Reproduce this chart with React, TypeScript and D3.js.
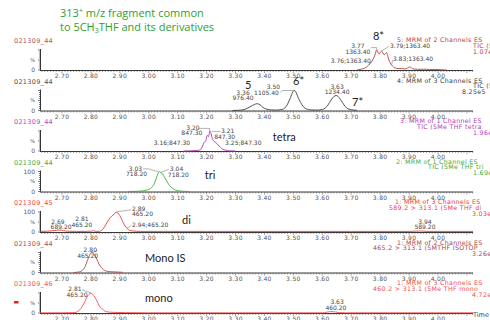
import React from "react";
import * as d3 from "d3";

const W = 490;
const H = 320;

// ---------- data ----------
const TIME_DOMAIN: [number, number] = [2.624, 4.121];
const MAJOR_TICKS = [2.7, 2.8, 2.9, 3.0, 3.1, 3.2, 3.3, 3.4, 3.5, 3.6, 3.7, 3.8, 3.9, 4.0];
const TICK_LABELS = ["2.70", "2.80", "2.90", "3.00", "3.10", "3.20", "3.30", "3.40", "3.50", "3.60", "3.70", "3.80", "3.90", "4.00"];
const PANEL_ORDER = [0, 1, 2, 3, 4, 5, 6];

const trace8: [number, number][] = [
  [3.72, 0], [3.735, 4], [3.745, 8], [3.76, 24], [3.776, 55], [3.782, 75], [3.788, 100], [3.796, 80],
  [3.805, 95], [3.814, 76], [3.822, 87], [3.83, 50], [3.84, 24], [3.851, 11], [3.862, 7], [3.874, 8],
  [3.885, 5], [3.895, 10], [3.903, 16], [3.912, 6], [3.92, 5], [3.94, 3], [3.955, 4], [3.97, 2],
  [3.99, 3], [4.01, 1], [4.03, 0],
];
const trace567: [number, number][] = [
  [3.29, 0], [3.31, 1], [3.33, 5], [3.35, 18], [3.365, 30], [3.375, 34], [3.385, 28], [3.395, 15],
  [3.405, 8], [3.42, 3], [3.44, 2], [3.46, 5], [3.47, 12], [3.48, 32], [3.49, 65], [3.498, 92],
  [3.503, 100], [3.508, 94], [3.515, 70], [3.525, 40], [3.535, 18], [3.545, 8], [3.56, 3], [3.58, 2],
  [3.6, 5], [3.61, 12], [3.62, 28], [3.63, 52], [3.64, 70], [3.648, 75], [3.655, 70], [3.665, 50],
  [3.675, 28], [3.685, 12], [3.7, 4], [3.72, 1],
];
const traceTetra: [number, number][] = [
  [3.12, 0], [3.14, 1], [3.16, 2], [3.17, 3], [3.18, 8], [3.186, 25], [3.192, 45], [3.197, 50],
  [3.202, 78], [3.207, 72], [3.211, 100], [3.215, 88], [3.22, 62], [3.226, 48], [3.232, 42], [3.24, 30],
  [3.248, 18], [3.256, 9], [3.265, 4], [3.28, 1], [3.3, 0],
];
const traceTri: [number, number][] = [
  [2.93, 0], [2.96, 1], [2.98, 3], [2.995, 8], [3.01, 20], [3.02, 42], [3.028, 75], [3.034, 95],
  [3.038, 100], [3.042, 93], [3.048, 88], [3.055, 70], [3.063, 50], [3.073, 28], [3.083, 15],
  [3.093, 7], [3.105, 3], [3.12, 1], [3.14, 0],
];
const traceDi: [number, number][] = [
  [2.625, 3], [2.65, 4], [2.665, 6], [2.68, 8], [2.693, 10], [2.705, 7], [2.72, 4], [2.75, 3],
  [2.78, 3], [2.8, 4], [2.81, 6], [2.818, 3], [2.83, 4], [2.842, 15], [2.852, 38], [2.862, 62],
  [2.872, 80], [2.88, 88], [2.887, 100], [2.893, 95], [2.9, 82], [2.908, 58], [2.916, 35], [2.925, 18],
  [2.935, 8], [2.945, 5], [2.97, 3], [3.05, 3], [3.2, 3], [3.35, 3], [3.5, 3], [3.7, 3], [3.9, 3],
  [3.94, 5], [3.96, 3], [4.121, 3],
];
const traceMonoIS: [number, number][] = [
  [2.74, 0], [2.76, 3], [2.77, 10], [2.78, 30], [2.788, 60], [2.795, 85], [2.8, 98], [2.806, 100],
  [2.812, 90], [2.82, 68], [2.828, 42], [2.838, 22], [2.848, 10], [2.86, 5], [2.88, 3], [2.91, 1],
];
const traceMono: [number, number][] = [
  [2.625, 1], [2.7, 1], [2.745, 2], [2.755, 8], [2.765, 22], [2.775, 45], [2.783, 70], [2.79, 88],
  [2.797, 97], [2.8, 100], [2.806, 93], [2.813, 80], [2.821, 60], [2.828, 38], [2.835, 24], [2.84, 20],
  [2.848, 10], [2.86, 5], [2.88, 3], [2.92, 2], [3.0, 1], [3.3, 1], [3.6, 1], [3.615, 4], [3.63, 7],
  [3.645, 5], [3.66, 2], [3.68, 1], [4.121, 1],
];

// annotations: [time, percent, text, anchor]
type Ann = [number, number, string, string];
const ann1: Ann[] = [
  [3.723, 120, "3.77", "middle"], [3.723, 90, "1363.40", "middle"], [3.834, 120, "3.79;1363.40", "start"],
  [3.768, 45, "3.76;1363.40", "end"], [3.844, 55, "3.83;1363.40", "start"],
];
const ann2: Ann[] = [
  [3.326, 87.5, "3.36", "middle"], [3.326, 62.5, "976.40", "middle"], [3.454, 119, "3.50", "end"],
  [3.45, 90, "1105.40", "end"], [3.651, 119, "3.63", "middle"], [3.651, 91, "1234.40", "middle"],
];
const ann3: Ann[] = [
  [3.153, 115, "3.20", "middle"], [3.149, 90, "847.30", "middle"], [3.25, 100, "3.21", "start"],
  [3.226, 72.5, "847.30", "start"], [3.143, 40, "3.16;847.30", "end"], [3.264, 42.5, "3.25;847.30", "start"],
];
const ann4: Ann[] = [
  [2.977, 115, "3.03", "end"], [2.994, 87.5, "718.20", "end"], [3.073, 112.5, "3.04", "start"],
  [3.066, 82.5, "718.20", "start"],
];
const ann5: Ann[] = [
  [2.686, 51.5, "2.69", "middle"], [2.697, 26.5, "689.20", "middle"], [2.769, 63.5, "2.81", "middle"],
  [2.769, 35, "465.20", "middle"], [2.942, 113.5, "2.89", "start"], [2.942, 88.5, "465.20", "start"],
  [2.942, 35, "2.94;465.20", "start"], [3.955, 51.5, "3.94", "middle"], [3.955, 26.5, "589.20", "middle"],
];
const ann6: Ann[] = [[2.821, 112.5, "2.80", "end"], [2.825, 85, "465.20", "end"]];
const ann7: Ann[] = [
  [2.745, 118.5, "2.81", "middle"], [2.752, 90, "465.20", "middle"], [3.651, 56.5, "3.63", "middle"],
  [3.647, 26.5, "460.20", "middle"],
];

// leader lines from labels to peaks: list of [time, percent] points
type Lead = [number, number][];
const lead1: Lead[] = [
  [[3.768, 112], [3.788, 112], [3.788, 100]],
  [[3.806, 96], [3.83, 118]],
  [[3.769, 40], [3.76, 26]],
  [[3.843, 50], [3.84, 26]],
];
const lead2: Lead[] = [[[3.455, 90], [3.462, 100], [3.503, 100]]];
const lead3: Lead[] = [
  [[3.172, 113], [3.211, 113], [3.211, 100]],
  [[3.218, 98], [3.248, 98]],
];
const lead4: Lead[] = [
  [[2.98, 113], [3.0, 113], [3.034, 98]],
  [[3.042, 96], [3.07, 111]],
];
const lead5: Lead[] = [
  [[2.89, 101], [2.94, 111]],
  [[2.925, 18], [2.94, 33]],
];
const lead6: Lead[] = [[[2.823, 110], [2.806, 100]]];
const lead7: Lead[] = [[[2.77, 116], [2.8, 100]]];

// big labels: [time, percent, text]
const big1: [number, number, string][] = [[3.775, 170, "8*"]];
const big2: [number, number, string][] = [[3.333, 127.5, "5"], [3.499, 147.5, "6*"], [3.703, 44, "7*"]];
const big3: [number, number, string][] = [[3.429, 70, "tetra"]];
const big4: [number, number, string][] = [[3.194, 82.5, "tri"]];
const big5: [number, number, string][] = [[3.115, 60, "di"]];
const big6: [number, number, string][] = [[2.987, 72.5, "Mono IS"]];
const big7: [number, number, string][] = [[2.987, 75, "mono"]];

const fileLabels = ["021309_44", "021309_44", "021309_44", "021309_44", "021309_45", "021309_44", "021309_46"];
const header1 = ["5: MRM of 2 Channels ES", "TIC (5Me THF", "1.07e6"];
const header2 = ["4: MRM of 3 Channels ES", "TIC (5Me THF", "8.25e5"];
const header3 = ["3: MRM of 1 Channel ES", "TIC (5Me THF tetra", "1.96e5"];
const header4 = ["2: MRM of 1 Channel ES", "TIC (5Me THF tri", "1.69e6"];
const header5 = ["1: MRM of 3 Channels ES", "589.2 > 313.1 (5Me THF di", "3.03e6"];
const header6 = ["1: MRM of 2 Channels ES", "465.2 > 313.1 (5MTHF ISOTOP", "3.26e6"];
const header7 = ["1: MRM of 3 Channels ES", "460.2 > 313.1 (5Me THF mono", "4.72e6"];

// ---------- styles / layout ----------
const panels = [
  { data: trace8, ann: ann1, lead: lead1, big: big1, header: header1, color: "#b8403f", label: "#a85a5a", hx: [397, 473, 473], hundred: false },
  { data: trace567, ann: ann2, lead: lead2, big: big2, header: header2, color: "#404040", label: "#505050", hx: [397, 473, 462], hundred: false },
  { data: traceTetra, ann: ann3, lead: lead3, big: big3, header: header3, color: "#b03cb8", label: "#b04cc0", hx: [400, 417, 473], hundred: false },
  { data: traceTri, ann: ann4, lead: lead4, big: big4, header: header4, color: "#3aaa3a", label: "#48a848", hx: [396, 428, 473], hundred: true },
  { data: traceDi, ann: ann5, lead: lead5, big: big5, header: header5, color: "#f03838", label: "#f04848", hx: [395, 389, 472], hundred: true },
  { data: traceMonoIS, ann: ann6, lead: lead6, big: big6, header: header6, color: "#a84848", label: "#a85050", hx: [397, 373, 472], hundred: false },
  { data: traceMono, ann: ann7, lead: lead7, big: big7, header: header7, color: "#f05050", label: "#f05858", hx: [397, 373, 472], hundred: false },
];

const SMALL = "'DejaVu Sans', sans-serif";
const BIG = "Lato, 'Open Sans', sans-serif";

export default function App() {
  const x = d3.scaleLinear().domain(TIME_DOMAIN).range([40, 473]);
  const panelY = d3.scaleLinear().domain([0, 6]).range([70, 313]);
  const minorTicks = d3.range(263, 413).map((i) => i / 100);
  const yTicks = d3.range(0, 101, 10);

  return (
    <svg width={W} height={H} style={{ position: "absolute", left: 0, top: 0, background: "#fff" }}>
      <text x={60} y={17} fontFamily="'Open Sans', sans-serif" fontSize={11} fill="#2fa02f">
        313<tspan fontSize={7} dy={-4}>+</tspan>
        <tspan dy={4}> m/z fragment common</tspan>
      </text>
      <text x={60} y={30.5} fontFamily="'Open Sans', sans-serif" fontSize={11} fill="#2fa02f">
        to 5CH<tspan fontSize={7} dy={2.5}>3</tspan>
        <tspan dy={-2.5}>THF and its derivatives</tspan>
      </text>
      {PANEL_ORDER.map((i) => {
        const p = panels[i];
        const b = panelY(i);
        const y = d3.scaleLinear().domain([0, 100]).range([b, b - 20]);
        const line = d3
          .line<[number, number]>()
          .x((d) => x(d[0]))
          .y((d) => y(d[1]))
          .curve(d3.curveMonotoneX);
        const leadLine = d3
          .line<[number, number]>()
          .x((d) => x(d[0]))
          .y((d) => y(d[1]));
        return (
          <g key={i}>
            <text x={14} y={b - 29} dy="0.35em" fontFamily={SMALL} fontSize={6.5} fill={p.label} letterSpacing={0.3}>
              {fileLabels[i]}
            </text>
            {p.header.map((h, k) => (
              <text key={k} x={p.hx[k]} y={b - 30 + k * 5.7} dy="0.35em" fontFamily={SMALL} fontSize={6.3} fill={p.color} letterSpacing={0.3}>
                {h}
              </text>
            ))}
            {/* y axis */}
            <line x1={40.5} x2={40.5} y1={b - 21} y2={b} stroke="#222" strokeWidth={0.9} />
            {yTicks.map((t) => (
              <line key={t} x1={40.5} x2={t % 50 === 0 ? 38 : 39} y1={y(t)} y2={y(t)} stroke="#222" strokeWidth={0.6} />
            ))}
            <text x={35} y={y(50)} dy="0.35em" textAnchor="end" fontFamily={SMALL} fontSize={5} fill="#555">%</text>
            <text x={35} y={b} dy="0.35em" textAnchor="end" fontFamily={SMALL} fontSize={6} fill="#555">0</text>
            {p.hundred && (
              <text x={35} y={y(100)} dy="0.35em" textAnchor="end" fontFamily={SMALL} fontSize={6} fill="#555">100</text>
            )}
            {/* x axis */}
            <line x1={40} x2={473} y1={b + 0.5} y2={b + 0.5} stroke="#222" strokeWidth={0.9} />
            {minorTicks.map((t, k) => (
              <line key={k} x1={x(t)} x2={x(t)} y1={b + 0.5} y2={b + (Math.round(t * 100) % 10 === 0 ? 3 : 2)} stroke="#444" strokeWidth={0.5} />
            ))}
            {MAJOR_TICKS.map((t, k) => (
              <text key={k} x={x(t)} y={b + 6} dy="0.35em" textAnchor="middle" fontFamily={SMALL} fontSize={6} fill="#555" letterSpacing={0.3}>
                {TICK_LABELS[k]}
              </text>
            ))}
            <path d={line(p.data) || ""} fill="none" stroke={p.color} strokeWidth={0.9} />
            {p.lead.map((l, k) => (
              <path key={k} d={leadLine(l) || ""} fill="none" stroke="#666" strokeWidth={0.5} />
            ))}
            {p.ann.map((a, k) => (
              <text key={k} x={x(a[0])} y={y(a[1])} dy="0.35em" textAnchor={a[3]} fontFamily={SMALL} fontSize={6} fill="#444">
                {a[2]}
              </text>
            ))}
            {p.big.map((a, k) => (
              <text key={k} x={x(a[0])} y={y(a[1])} dy="0.35em" fontFamily={BIG} fontSize={11} fill="#222">
                {a[2]}
              </text>
            ))}
          </g>
        );
      })}
      <text x={473} y={315} dy="0.35em" fontFamily={SMALL} fontSize={6.5} fill="#444">Time</text>
      <rect x={14} y={301} width={4.5} height={2.5} fill="#e82020" />
    </svg>
  );
}
